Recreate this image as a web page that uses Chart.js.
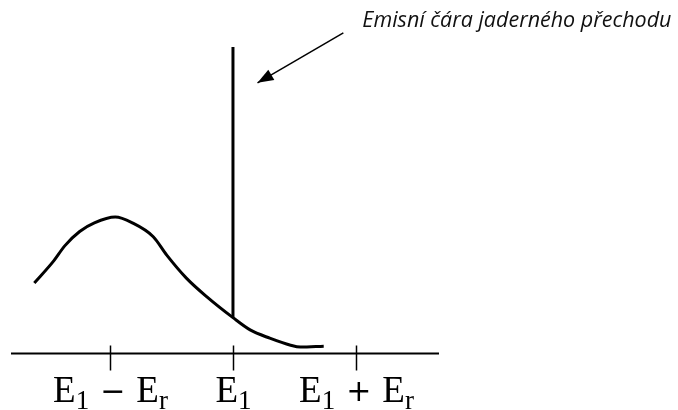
<!DOCTYPE html>
<html>
<head>
<meta charset="utf-8">
<script src="https://cdn.jsdelivr.net/npm/chart.js@4"></script>
<style>
  body { margin: 0; background: #fff; }
  canvas { display: block; }
</style>
</head>
<body>
<canvas id="chart" width="678" height="410"></canvas>
<script>
// hodnoty (E1 = 0, Er = 1)
const tickValues = [-1, 0, 1];
const tickLabels = ['E_1 − E_r', 'E_1', 'E_1 + E_r'];

const curveX = [-1.62, -1.47, -1.37, -1.25, -1.13, -0.96, -0.82, -0.65, -0.54, -0.38, -0.21, 0, 0.14, 0.30, 0.47, 0.55, 0.74];
const curveY = [23.0, 29.8, 35.2, 39.8, 42.6, 44.5, 42.6, 38.1, 32.1, 24.6, 18.4, 11.7, 7.7, 5.0, 2.7, 2.1, 2.4];

const lineX = [0, 0];
const lineY = [11.7, 100];

const arrowX = [0.90, 0.20];
const arrowY = [104.6, 88.3];
const arrowText = 'Emisní čára jaderného přechodu';

const pts = (xs, ys) => xs.map((x, i) => ({ x: x, y: ys[i] }));

const fonts = {
    main: '37px "Liberation Serif"',
    sub: '27px "Liberation Serif"',
    op: '30px "DejaVu Sans"'
};

// rozdělí 'E_1 − E_r' na text, dolní indexy a operátory
const parseLabel = s => {
    const parts = [];
    const re = /_(\w)| ([−+]) |([^_ ]+)/g;
    let m;
    while ((m = re.exec(s)) !== null) {
        if (m[1]) parts.push({ t: m[1], k: 'sub' });
        else if (m[2]) parts.push({ t: m[2], k: 'op' });
        else parts.push({ t: m[3], k: 'main' });
    }
    return parts;
};

const drawing = {
    id: 'drawing',
    afterDatasetsDraw(chart) {
        const c = chart.ctx;
        const xs = chart.scales.x, ys = chart.scales.y;
        const area = chart.chartArea;
        const y0 = ys.getPixelForValue(0);
        c.save();
        c.strokeStyle = '#000';
        c.fillStyle = '#000';

        // osa x
        c.lineWidth = 2;
        c.beginPath();
        c.moveTo(area.left, y0);
        c.lineTo(area.right, y0);
        c.stroke();

        // značky a popisky
        c.lineWidth = 1.5;
        xs.ticks.forEach((tk, i) => {
            const px = Math.round(xs.getPixelForValue(tk.value)) + 0.5;
            c.beginPath();
            c.moveTo(px, y0 - 8);
            c.lineTo(px, y0 + 17);
            c.stroke();

            const parts = parseLabel(tickLabels[i]);
            let w = 0;
            parts.forEach(p => {
                c.font = fonts[p.k];
                p.w = c.measureText(p.t).width + (p.k === 'op' ? 22 : 0);
                w += p.w;
            });
            let x = px - w / 2;
            c.textBaseline = 'alphabetic';
            c.textAlign = 'left';
            parts.forEach(p => {
                c.font = fonts[p.k];
                if (p.k === 'op') c.fillText(p.t, x + 11, 401);
                else c.fillText(p.t, x, p.k === 'sub' ? 409 : 402);
                x += p.w;
            });
        });

        // hrot šipky
        const tx = xs.getPixelForValue(arrowX[1]), ty = ys.getPixelForValue(arrowY[1]);
        const sx = xs.getPixelForValue(arrowX[0]), sy = ys.getPixelForValue(arrowY[0]);
        const a = Math.atan2(ty - sy, tx - sx);
        const len = 16, hw = 6;
        c.beginPath();
        c.moveTo(tx, ty);
        c.lineTo(tx - len * Math.cos(a) + hw * Math.sin(a), ty - len * Math.sin(a) - hw * Math.cos(a));
        c.lineTo(tx - len * Math.cos(a) - hw * Math.sin(a), ty - len * Math.sin(a) + hw * Math.cos(a));
        c.closePath();
        c.fill();

        // text u šipky
        c.fillStyle = '#111';
        c.font = 'italic 21.5px "Open Sans"';
        c.textAlign = 'left';
        c.fillText(arrowText, sx + 19, sy - 6);
        c.restore();
    }
};

new Chart(document.getElementById('chart'), {
    type: 'scatter',
    data: {
        datasets: [
            { data: pts(curveX, curveY), showLine: true, cubicInterpolationMode: 'monotone', borderColor: '#000', borderWidth: 3, pointRadius: 0, clip: false },
            { data: pts(lineX, lineY), showLine: true, borderColor: '#000', borderWidth: 3, pointRadius: 0, clip: false },
            { data: pts(arrowX, arrowY), showLine: true, borderColor: '#000', borderWidth: 1.5, pointRadius: 0, clip: false }
        ]
    },
    options: {
        responsive: false,
        animation: false,
        layout: { padding: { left: 11, right: 239, top: 47, bottom: 56.5 } },
        plugins: { legend: { display: false }, tooltip: { enabled: false } },
        scales: {
            x: {
                type: 'linear', display: false, min: -1.81, max: 1.68,
                afterBuildTicks: s => { s.ticks = tickValues.map(v => ({ value: v })); }
            },
            y: { type: 'linear', display: false, min: 0, max: 100 }
        }
    },
    plugins: [drawing]
});
</script>
</body>
</html>
